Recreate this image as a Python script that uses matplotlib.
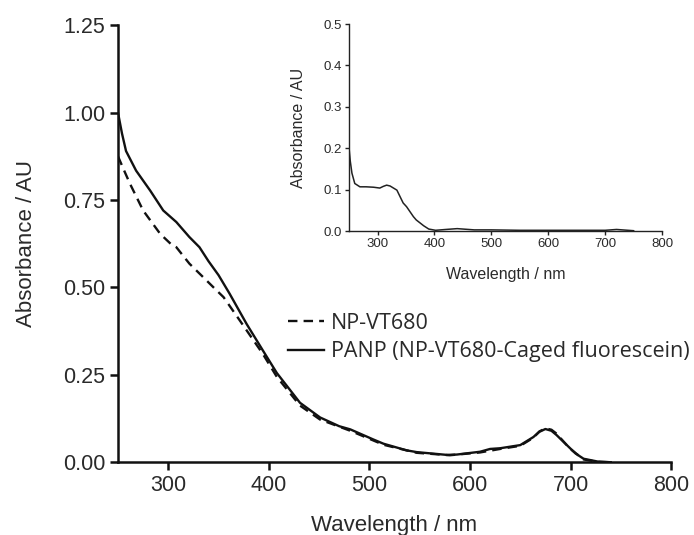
import matplotlib
matplotlib.use("Agg")
import matplotlib.pyplot as plt

plt.rcParams['font.family'] = ['Liberation Sans', 'DejaVu Sans']

# main spectra (wavelength nm, absorbance AU)
wl_panp = [250, 254, 258, 268, 282, 295, 308, 321, 331, 340, 350, 361, 378, 394, 408,
           431, 451, 470, 481, 504, 514, 537, 547, 577, 587, 610, 620, 630, 650,
           663, 669, 675, 681, 686, 696, 705, 713, 727, 740]
abs_panp = [1.00, 0.94, 0.89, 0.834, 0.777, 0.72, 0.687, 0.644, 0.615, 0.575, 0.535,
            0.482, 0.395, 0.32, 0.255, 0.17, 0.128, 0.103, 0.094, 0.065, 0.053, 0.034,
            0.029, 0.021, 0.022, 0.03, 0.038, 0.04, 0.049, 0.072, 0.087, 0.095, 0.09,
            0.078, 0.05, 0.025, 0.01, 0.002, 0.0]

wl_np = [250, 256, 262, 275, 292, 303, 308, 321, 338, 345, 355, 371, 394, 408, 431,
         451, 481, 514, 547, 580, 610, 630, 650, 663, 669, 675, 681, 686, 699, 713,
         727, 740]
abs_np = [0.875, 0.835, 0.796, 0.72, 0.653, 0.623, 0.615, 0.568, 0.52, 0.50, 0.472,
          0.406, 0.31, 0.244, 0.162, 0.122, 0.09, 0.05, 0.027, 0.02, 0.028, 0.038,
          0.047, 0.07, 0.088, 0.097, 0.093, 0.082, 0.04, 0.008, 0.001, 0.0]

# inset spectrum
wl_ins = [250, 252, 255, 260, 269, 280, 293, 304, 310, 316, 322, 328, 334, 345, 351,
          363, 368, 381, 390, 402, 420, 440, 450, 470, 500, 550, 600, 650, 700, 720, 750]
abs_ins = [0.20, 0.17, 0.14, 0.115, 0.107, 0.107, 0.106, 0.104, 0.108, 0.111, 0.109,
           0.104, 0.099, 0.068, 0.059, 0.035, 0.027, 0.013, 0.005, 0.002, 0.004, 0.006,
           0.005, 0.003, 0.003, 0.002, 0.002, 0.002, 0.002, 0.004, 0.001]

main_yticks = [0.00, 0.25, 0.50, 0.75, 1.00, 1.25]
main_xticks = [300, 400, 500, 600, 700, 800]
ins_yticks = [0.0, 0.1, 0.2, 0.3, 0.4, 0.5]
ins_xticks = [300, 400, 500, 600, 700, 800]

txt = '#2a2a2a'
ink = '#111111'

fig = plt.figure(figsize=(6.94, 5.35), dpi=100)
ax = fig.add_axes([0.170, 0.136, 0.797, 0.817])

ax.plot(wl_np, abs_np, color=ink, lw=1.7, dashes=(4, 2.6), label='NP-VT680')
ax.plot(wl_panp, abs_panp, color=ink, lw=1.7, label='PANP (NP-VT680-Caged fluorescein)')

ax.set_xlim(250, 800)
ax.set_ylim(0, 1.25)
ax.set_xticks(main_xticks)
ax.set_yticks(main_yticks)
ax.set_yticklabels(['%.2f' % v for v in main_yticks])
for s in ['top', 'right']:
    ax.spines[s].set_visible(False)
for s in ['left', 'bottom']:
    ax.spines[s].set_linewidth(1.8)
    ax.spines[s].set_color(ink)
ax.tick_params(length=6, width=1.8, color=ink, labelsize=15.5, labelcolor=txt, pad=3)
ax.set_xlabel('Wavelength / nm', fontsize=16, color=txt, labelpad=14)
ax.set_ylabel('Absorbance / AU', fontsize=16, color=txt, labelpad=19)

leg = ax.legend(loc='center left', bbox_to_anchor=(0.307, 0.285), frameon=False,
                borderpad=0, borderaxespad=0, handlelength=1.7, handletextpad=0.3,
                labelspacing=0.35, prop={'family': 'Open Sans', 'size': 15.5})
for t in leg.get_texts():
    t.set_color(txt)

# inset
axi = fig.add_axes([0.503, 0.568, 0.451, 0.387])
axi.plot(wl_ins, abs_ins, color='#222222', lw=1.1)
axi.set_xlim(250, 800)
axi.set_ylim(0, 0.5)
axi.set_xticks(ins_xticks)
axi.set_yticks(ins_yticks)
axi.set_yticklabels(['%.1f' % v for v in ins_yticks])
for s in ['top', 'right']:
    axi.spines[s].set_visible(False)
for s in ['left', 'bottom']:
    axi.spines[s].set_linewidth(1.0)
    axi.spines[s].set_color('#222222')
axi.tick_params(length=3, width=1.0, color='#222222', labelsize=9.5, labelcolor=txt, pad=2)
axi.set_xlabel('Wavelength / nm', fontsize=11.5, color=txt, labelpad=12)
axi.set_ylabel('Absorbance / AU', fontsize=11.5, color=txt, labelpad=13)

fig.savefig('out.png', dpi=100)
